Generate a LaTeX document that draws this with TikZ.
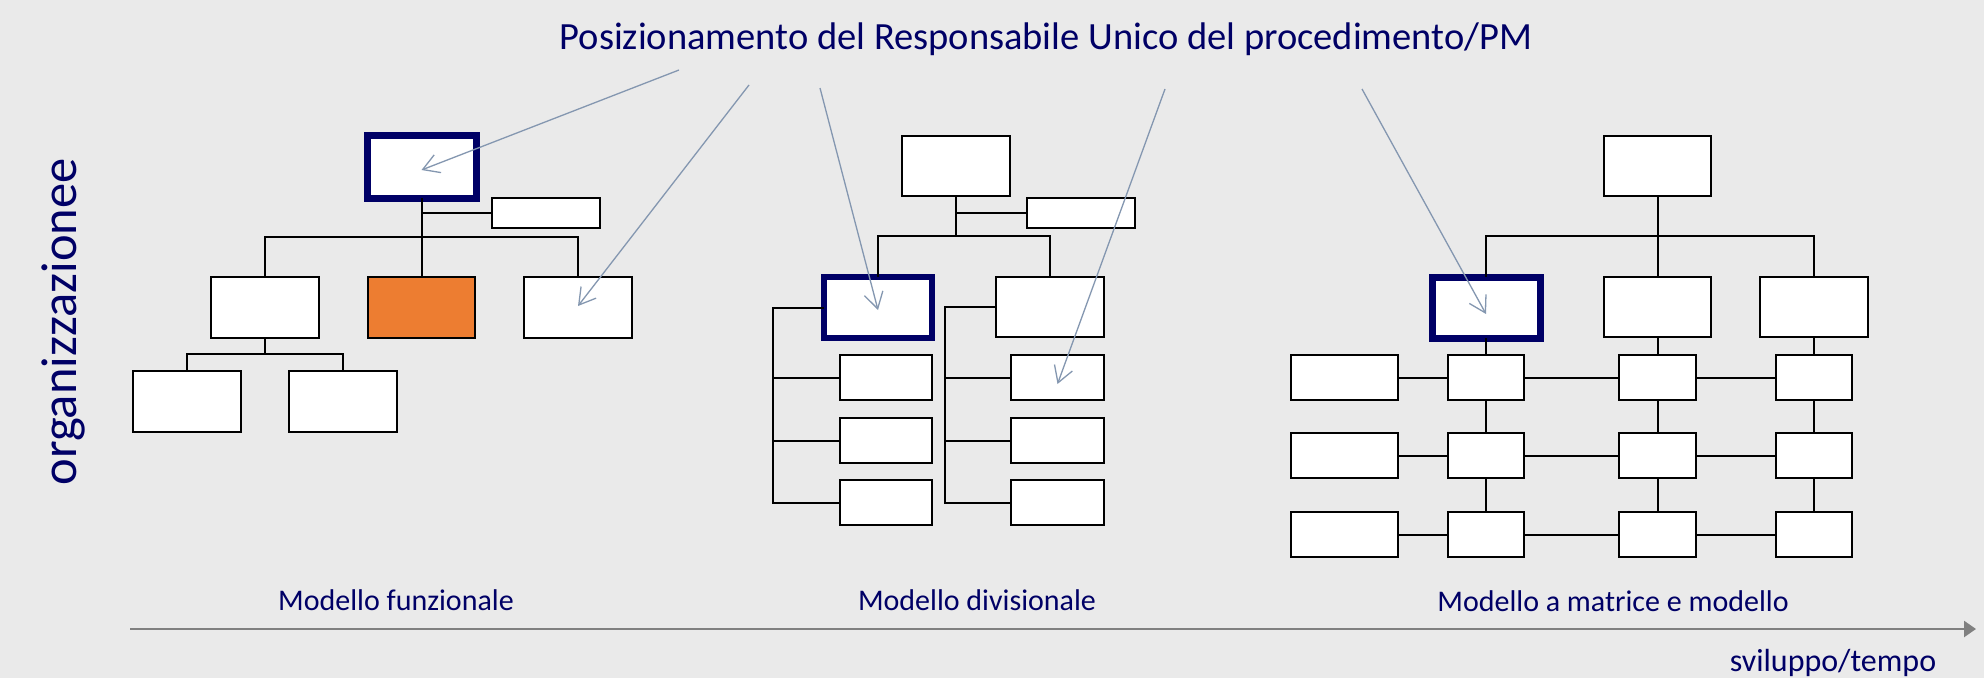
\documentclass[tikz,border=0pt]{standalone}
\usepackage{fontspec}
\setmainfont{Carlito}
\usetikzlibrary{arrows.meta}
\definecolor{bg}{RGB}{234,234,234}
\definecolor{navy}{RGB}{0,0,102}
\definecolor{pmarrow}{RGB}{132,151,176}
\definecolor{orangefill}{RGB}{237,125,49}
\definecolor{axisgray}{RGB}{128,128,128}
\begin{document}
\begin{tikzpicture}[x=1pt,y=-1pt,
  box/.style={draw=black, line width=2pt, fill=white, inner sep=0pt, outer sep=0pt},
  pmbox/.style={draw=navy, line width=7pt, fill=white, inner sep=0pt, outer sep=0pt},
  pmboxthin/.style={draw=navy, line width=5.5pt, fill=white, inner sep=0pt, outer sep=0pt},
  orgbox/.style={draw=black, line width=2pt, fill=orangefill, inner sep=0pt, outer sep=0pt},
  link/.style={draw=black, line width=2pt},
  pm/.style={draw=pmarrow, line width=1.3pt, -{Straight Barb[length=16pt,width=19pt]}},
  axisline/.style={draw=axisgray, line width=2.5pt, -{Triangle[length=12pt,width=16pt]}},
  lbl/.style={text=navy, inner sep=0pt, anchor=base, font=\fontsize{30}{34}\selectfont},
]
\fill[bg] (0,0) rectangle (1984,678);
\useasboundingbox (0,0) rectangle (1984,678);

% ---------- Functional model ----------
\node[pmbox, minimum width=109, minimum height=63] (F0) at (421.5,166.5) {};
\node[box, minimum width=108, minimum height=30] (Fs) at (546,213) {};
\node[box, minimum width=108, minimum height=61] (Fl) at (265,307.5) {};
\node[orgbox, minimum width=107, minimum height=61] (Fo) at (421.5,307.5) {};
\node[box, minimum width=108, minimum height=61] (Fr) at (578,307.5) {};
\node[box, minimum width=108, minimum height=61] (Fbl) at (187,401.5) {};
\node[box, minimum width=108, minimum height=61] (Fbr) at (343,401.5) {};
\coordinate (Fbar) at (421.5,237);
\coordinate (Fbar2) at (265,354);
\draw[link] (F0.south) -- (Fo.north);
\draw[link] (F0.south |- Fs.west) -- (Fs.west);
\draw[link] (Fl.north) |- (Fbar) -| (Fr.north);
\draw[link] (Fl.south) -- (Fbar2);
\draw[link] (Fbl.north) |- (Fbar2) -| (Fbr.north);

% ---------- Divisional model ----------
\node[box, minimum width=108, minimum height=60] (D0) at (956,166) {};
\node[box, minimum width=108, minimum height=30] (Ds) at (1081,213) {};
\node[pmboxthin, minimum width=108, minimum height=61] (Dl) at (878,307.5) {};
\node[box, minimum width=108, minimum height=60] (Dr) at (1050,307) {};
\foreach \i/\y in {1/377.5,2/440.5,3/502.5}{
  \node[box, minimum width=92, minimum height=45] (DL\i) at (886,\y) {};
  \node[box, minimum width=93, minimum height=45] (DR\i) at (1057.5,\y) {};
}
\coordinate (Dbar) at (956,236);
\coordinate (DLx) at (773,308);
\coordinate (DRx) at (945,308);
\draw[link] (D0.south) -- (Dbar);
\draw[link] (D0.south |- Ds.west) -- (Ds.west);
\draw[link] (Dl.north) |- (Dbar) -| (Dr.north);
\draw[link] (Dl.west) -| (DL3.west -| DLx) -- (DL3.west);
\draw[link] (DL1.west -| DLx) -- (DL1.west);
\draw[link] (DL2.west -| DLx) -- (DL2.west);
\draw[link] (Dr.west) -| (DR3.west -| DRx) -- (DR3.west);
\draw[link] (DR1.west -| DRx) -- (DR1.west);
\draw[link] (DR2.west -| DRx) -- (DR2.west);

% ---------- Matrix model ----------
\node[box, minimum width=107, minimum height=60] (M0) at (1657.5,166) {};
\node[pmbox, minimum width=108, minimum height=61] (Ma) at (1486,307.5) {};
\node[box, minimum width=107, minimum height=60] (Mb) at (1657.5,307) {};
\node[box, minimum width=108, minimum height=60] (Mc) at (1814,307) {};
\foreach \r/\y in {1/377.5,2/455.5,3/534.5}{
  \node[box, minimum width=107, minimum height=45] (ML\r) at (1344.5,\y) {};
  \node[box, minimum width=76, minimum height=45] (MA\r) at (1486,\y) {};
  \node[box, minimum width=77, minimum height=45] (MB\r) at (1657.5,\y) {};
  \node[box, minimum width=76, minimum height=45] (MC\r) at (1814,\y) {};
  \draw[link] (ML\r.east) -- (MA\r.west);
  \draw[link] (MA\r.east) -- (MB\r.west);
  \draw[link] (MB\r.east) -- (MC\r.west);
}
\coordinate (Mbar) at (1657.5,236);
\draw[link] (M0.south) -- (Mb.north);
\draw[link] (Ma.north) |- (Mbar) -| (Mc.north);
\draw[link] (Ma.south) -- (MA1.north);
\draw[link] (Mb.south) -- (MB1.north);
\draw[link] (Mc.south) -- (MC1.north);
\draw[link] (MA1.south) -- (MA2.north);
\draw[link] (MA2.south) -- (MA3.north);
\draw[link] (MB1.south) -- (MB2.north);
\draw[link] (MB2.south) -- (MB3.north);
\draw[link] (MC1.south) -- (MC2.north);
\draw[link] (MC2.south) -- (MC3.north);

% ---------- Title and pointer arrows ----------
\node[text=navy, inner sep=0pt, anchor=base, font=\fontsize{38.5}{42}\selectfont] (T) at (1046,49)
  {Posizionamento del Responsabile Unico del procedimento/PM};
\coordinate (s1) at (679,70);
\coordinate (s2) at (749,85);
\coordinate (s3) at (820,88);
\coordinate (s4) at (1165,89);
\coordinate (s5) at (1362,89);
\draw[pm] (s1) -- ([yshift=-3.5pt]F0.center);
\draw[pm] (s2) -- ([yshift=1.5pt]Fr.center);
\draw[pm] (s3) -- ([yshift=-2.5pt]Dl.center);
\draw[pm] (s4) -- ([yshift=-6.5pt]DR1.center);
\draw[pm] (s5) -- ([yshift=-6.5pt]Ma.center);

% ---------- Labels and axis ----------
\node[text=navy, inner sep=0pt, anchor=base, rotate=90, font=\fontsize{50.5}{55}\selectfont] (V) at (76,322) {organizzazionee};
\node[lbl] (L1) at (396,610) {Modello funzionale};
\node[lbl] (L2) at (977,610) {Modello divisionale};
\node[lbl] (L3) at (1613,611) {Modello a matrice e modello};
\coordinate (ax0) at (130,629);
\coordinate (ax1) at (1976,629);
\draw[axisline] (ax0) -- (ax1);
\node[lbl, font=\fontsize{32}{36}\selectfont] (L4) at (1833,671) {sviluppo/tempo};
\end{tikzpicture}
\end{document}
